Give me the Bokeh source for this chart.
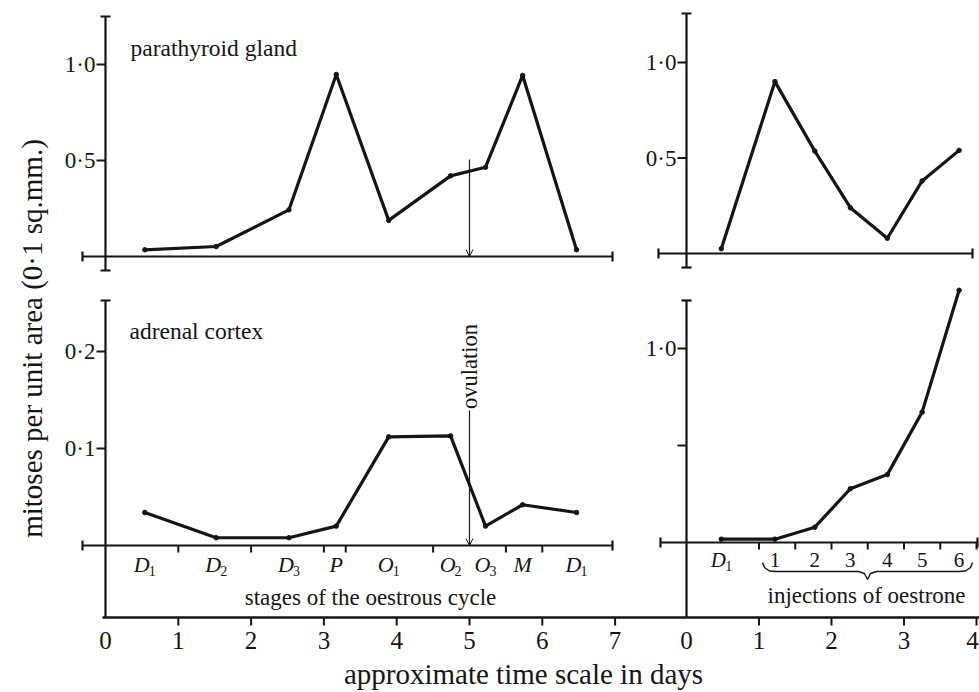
import math
from bokeh.plotting import figure
from bokeh.models import Range1d, Arrow, OpenHead
from bokeh.core.properties import value
from bokeh.embed import file_html
from bokeh.resources import INLINE

# ---------------- data ----------------
stage_labels = ["D1", "D2", "D3", "P", "O1", "O2", "O3", "M", "D1"]
stage_days = [0.54, 1.52, 2.52, 3.17, 3.89, 4.74, 5.22, 5.73, 6.47]
parathyroid_cycle = [0.035, 0.052, 0.243, 0.948, 0.188, 0.420, 0.465, 0.943, 0.035]
adrenal_cycle = [0.034, 0.008, 0.008, 0.020, 0.112, 0.113, 0.020, 0.042, 0.034]
stage_boundaries = [1.0, 2.0, 3.0, 3.3, 4.5, 5.5, 6.0]
ovulation_day = 5.0

inj_labels = ["D1", "1", "2", "3", "4", "5", "6"]
inj_days = [0.48, 1.22, 1.77, 2.26, 2.77, 3.25, 3.76]
parathyroid_inj = [0.025, 0.900, 0.536, 0.240, 0.080, 0.380, 0.540]
adrenal_inj = [0.017, 0.017, 0.079, 0.277, 0.350, 0.672, 1.300]
inj_boundaries = [1.0, 1.5, 2.0, 2.5, 3.0, 3.5, 4.0]

cycle_day_ticks = [0, 1, 2, 3, 4, 5, 6, 7]
inj_day_ticks = [0, 1, 2, 3, 4]

tl_yticks, tl_ylabels = [0.5, 1.0], ["0·5", "1·0"]
bl_yticks, bl_ylabels = [0.1, 0.2], ["0·1", "0·2"]
tr_yticks, tr_ylabels = [0.5, 1.0], ["0·5", "1·0"]
br_yticks, br_ylabels = [0.5, 1.0], ["", "1·0"]

title_tl = "parathyroid gland"
title_bl = "adrenal cortex"
cycle_caption = "stages of the oestrous cycle"
inj_caption = "injections of oestrone"
ovulation_text = "ovulation"
x_title = "approximate time scale in days"
y_title = "mitoses per unit area (0·1 sq.mm.)"

# ---------------- layout ----------------
W, H = 979, 692
INK = "#151515"
SERIF = value("Liberation Serif")

# pixel anchor of value 0 and pixels per unit
XA = {"cyc": (105.0, 72.8), "inj": (686.0, 72.5)}
YA = {"tl": (256.0, 192.0), "bl": (545.0, 970.0), "tr": (253.0, 191.0), "br": (542.0, 194.0)}


def xu(n, px):
    x0, s = XA[n]
    return (px - x0) / s


def yu(n, px):
    y0, s = YA[n]
    return (y0 - px) / s


p = figure(width=W, height=H, output_backend="svg", toolbar_location=None,
           x_range=Range1d(0, W), y_range=Range1d(0, H),
           x_axis_location=None, y_axis_location=None, min_border=0,
           outline_line_color=None, background_fill_color="white",
           border_fill_color="white")
p.grid.visible = False
p.extra_x_ranges = {n: Range1d(xu(n, 0), xu(n, W)) for n in XA}
p.extra_y_ranges = {n: Range1d(yu(n, H), yu(n, 0)) for n in YA}


def seg(xn, yn, x0, y0, x1, y1, w=2.0):
    p.segment(x0=x0, y0=y0, x1=x1, y1=y1, line_color=INK, line_width=w,
              x_range_name=xn, y_range_name=yn)


def txt(xn, yn, xs, ys, texts, size="22px", align="center", style="normal",
        angle=0.0, x_offset=0, baseline="middle"):
    p.text(x=xs, y=ys, text=texts, text_font=SERIF, text_font_size=size,
           text_font_style=style, text_align=align, text_baseline=baseline,
           text_color=INK, angle=angle, x_offset=x_offset,
           x_range_name=xn, y_range_name=yn)


def panel(xn, yn, xl_px, xr_px, yt_px, yb_px, yticks, ylabels, bottom_cap):
    xl, xr = xu(xn, xl_px), xu(xn, xr_px)
    dy = 1.0 / YA[yn][1]
    dx = 1.0 / XA[xn][1]
    seg(xn, yn, [xl], [0], [xr], [0], 2.2)
    seg(xn, yn, [xl, xr], [-5 * dy] * 2, [xl, xr], [5 * dy] * 2, 2.2)
    yt, yb = yu(yn, yt_px), yu(yn, yb_px)
    seg(xn, yn, [0], [yb], [0], [yt], 2.2)
    caps = [yt] + ([yb] if bottom_cap else [])
    seg(xn, yn, [-5 * dx] * len(caps), caps, [5 * dx] * len(caps), caps, 2.2)
    n = len(yticks)
    seg(xn, yn, [-9 * dx] * n, yticks, [0] * n, yticks, 2.0)
    txt(xn, yn, [-10 * dx] * n, yticks, ylabels, size="23px", align="right")


def series(xn, yn, xs, ys):
    p.line(xs, ys, line_width=3.2, line_color=INK, line_join="round",
           x_range_name=xn, y_range_name=yn)
    p.scatter(xs, ys, size=4.5, color=INK, x_range_name=xn, y_range_name=yn)


def stage_text(xn, yn, xs, labels, y_px, size_main, size_sub):
    base = [s[0] for s in labels]
    sub = [s[1:] for s in labels]
    alpha_x = [x for x, b in zip(xs, base) if b.isalpha()]
    alpha_b = [b for b in base if b.isalpha()]
    alpha_off = [(-3 if s else 0) for b, s in zip(base, sub) if b.isalpha()]
    alpha_sub = [s for b, s in zip(base, sub) if b.isalpha()]
    num_x = [x for x, s in zip(xs, labels) if not s[0].isalpha()]
    num_t = [s for s in labels if not s[0].isalpha()]
    if alpha_x:
        txt(xn, yn, alpha_x, [yu(yn, y_px)] * len(alpha_x), alpha_b,
            size=size_main, style="italic", x_offset=alpha_off)
        txt(xn, yn, alpha_x, [yu(yn, y_px + 6)] * len(alpha_x), alpha_sub,
            size=size_sub, align="left", x_offset=4)
    if num_x:
        txt(xn, yn, num_x, [yu(yn, y_px)] * len(num_x), num_t, size=size_main)


# ---------- panels ----------
panel("cyc", "tl", 82, 612, 16, 270, tl_yticks, tl_ylabels, True)
panel("cyc", "bl", 82, 612, 300, 617, bl_yticks, bl_ylabels, False)
panel("inj", "tr", 658, 972, 13, 267, tr_yticks, tr_ylabels, True)
panel("inj", "br", 660, 977, 300, 617, br_yticks, br_ylabels, False)

series("cyc", "tl", stage_days, parathyroid_cycle)
series("cyc", "bl", stage_days, adrenal_cycle)
series("inj", "tr", inj_days, parathyroid_inj)
series("inj", "br", inj_days, adrenal_inj)

# panel titles
txt("cyc", "tl", [xu("cyc", 130)], [yu("tl", 47)], [title_tl], size="23.5px", align="left")
txt("cyc", "bl", [xu("cyc", 129)], [yu("bl", 330)], [title_bl], size="23.5px", align="left")

# stage separators and labels
nb = len(stage_boundaries)
seg("cyc", "bl", stage_boundaries, [0] * nb, stage_boundaries, [yu("bl", 552)] * nb, 2.0)
stage_text("cyc", "bl", stage_days, stage_labels, 564, "22px", "14px")
txt("cyc", "bl", [xu("cyc", 370)], [yu("bl", 597)], [cycle_caption], size="23px")

ni = len(inj_boundaries)
seg("inj", "br", inj_boundaries, [0] * ni, inj_boundaries, [yu("br", 549)] * ni, 2.0)
stage_text("inj", "br", inj_days, inj_labels, 559, "21px", "14px")
txt("inj", "br", [xu("inj", 866)], [yu("br", 595)], [inj_caption], size="23px")

# brace under injections
brace_px = [(762, 562), (764, 567), (769, 570.5), (776, 571), (858, 571), (864, 573),
            (867, 579), (870, 573), (876, 571), (958, 571), (965, 570.5), (970, 567), (972, 562)]
p.line([xu("inj", a) for a, b in brace_px], [yu("br", b) for a, b in brace_px],
       line_width=1.4, line_color=INK, x_range_name="inj", y_range_name="br")

# ovulation arrows
for yn, ytop in (("tl", 159), ("bl", 410)):
    p.add_layout(Arrow(end=OpenHead(size=7, line_width=1.0, line_color=INK),
                       x_start=ovulation_day, y_start=yu(yn, ytop),
                       x_end=ovulation_day, y_end=0, line_width=1.2, line_color=INK,
                       x_range_name="cyc", y_range_name=yn))
txt("cyc", "bl", [ovulation_day], [yu("bl", 366)], [ovulation_text], size="22.5px",
    angle=math.pi / 2)

# bottom time scale
y_time_l = yu("bl", 617)
y_time_r = yu("br", 617)
seg("cyc", "bl", [xu("cyc", 102)], [y_time_l], [xu("cyc", 686)], [y_time_l], 2.4)
seg("inj", "br", [0], [y_time_r], [xu("inj", W)], [y_time_r], 2.4)
cl = cycle_day_ticks[1:]
seg("cyc", "bl", cl, [y_time_l] * len(cl), cl, [yu("bl", 625)] * len(cl), 2.0)
il = inj_day_ticks[1:]
seg("inj", "br", il, [y_time_r] * len(il), il, [yu("br", 625)] * len(il), 2.0)
txt("cyc", "bl", cycle_day_ticks, [yu("bl", 640)] * len(cycle_day_ticks),
    [str(d) for d in cycle_day_ticks], size="25px")
inj_off = [0] * (len(inj_day_ticks) - 1) + [-4]
txt("inj", "br", inj_day_ticks, [yu("br", 640)] * len(inj_day_ticks),
    [str(d) for d in inj_day_ticks], size="25px", x_offset=inj_off)

# axis titles
txt("cyc", "tl", [xu("cyc", 523)], [yu("tl", 673)], [x_title], size="29px")
txt("cyc", "tl", [xu("cyc", 31)], [yu("tl", 338)], [y_title], size="29px",
    angle=math.pi / 2)

open("out.html", "w").write(file_html(p, INLINE))
